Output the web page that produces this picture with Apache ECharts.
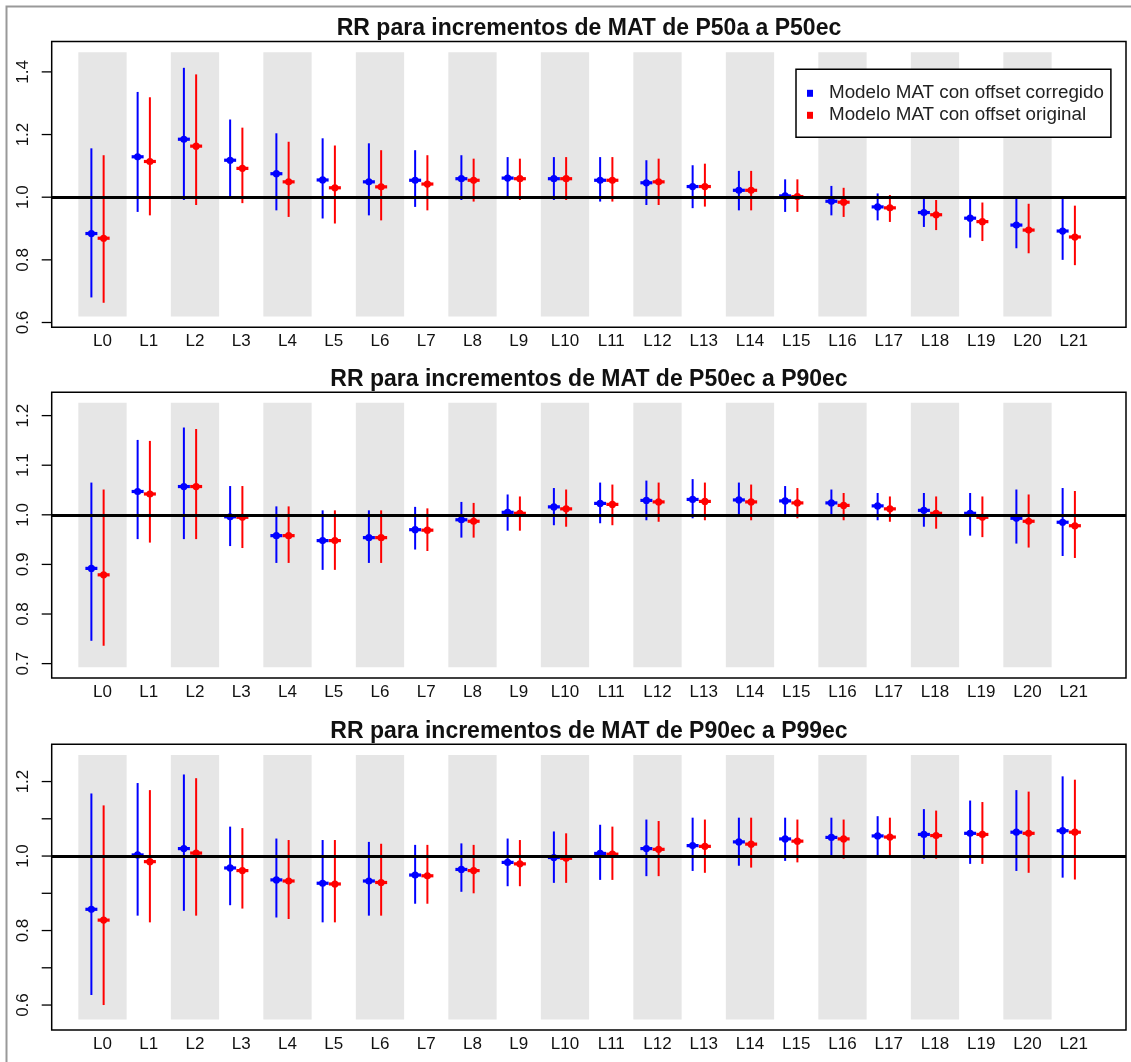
<!DOCTYPE html>
<html>
<head>
<meta charset="utf-8">
<script src="https://cdn.jsdelivr.net/npm/echarts@6/dist/echarts.min.js"></script>
<style>
  html, body { margin: 0; padding: 0; background: #fff; }
  #chart { width: 1131px; height: 1062px; }
</style>
</head>
<body>
<div id="chart"></div>
<script>
// Lags and model names
const lags = ['L0','L1','L2','L3','L4','L5','L6','L7','L8','L9','L10',
              'L11','L12','L13','L14','L15','L16','L17','L18','L19','L20','L21'];
const modelNames = ['Modelo MAT con offset corregido', 'Modelo MAT con offset original'];
const panelTitles = [
  'RR para incrementos de MAT de P50a a P50ec',
  'RR para incrementos de MAT de P50ec a P90ec',
  'RR para incrementos de MAT de P90ec a P99ec'
];

// Panel 1: P50a -> P50ec
const p1CorrRR = [0.884,1.129,1.185,1.118,1.075,1.055,1.049,1.054,1.059,1.061,1.059,1.054,1.046,1.034,1.022,1.004,0.987,0.969,0.951,0.933,0.911,0.892];
const p1CorrLo = [0.680,0.953,0.991,1.002,0.958,0.932,0.942,0.969,0.991,0.997,0.991,0.986,0.975,0.965,0.958,0.953,0.942,0.926,0.905,0.871,0.837,0.800];
const p1CorrHi = [1.156,1.336,1.413,1.248,1.204,1.188,1.172,1.150,1.134,1.128,1.128,1.128,1.118,1.102,1.084,1.057,1.036,1.012,1.002,0.995,0.996,0.997];
const p1OrigRR = [0.869,1.114,1.163,1.092,1.049,1.030,1.033,1.042,1.054,1.059,1.059,1.054,1.049,1.034,1.022,1.002,0.984,0.966,0.944,0.922,0.895,0.873];
const p1OrigLo = [0.663,0.942,0.975,0.981,0.937,0.916,0.926,0.958,0.986,0.991,0.991,0.986,0.975,0.970,0.958,0.953,0.937,0.921,0.895,0.860,0.821,0.783];
const p1OrigHi = [1.134,1.319,1.392,1.222,1.177,1.165,1.150,1.134,1.123,1.123,1.128,1.128,1.123,1.107,1.084,1.057,1.030,1.007,0.991,0.983,0.979,0.973];

// Panel 2: P50ec -> P90ec
const p2CorrRR = [0.892,1.047,1.057,0.996,0.958,0.948,0.954,0.970,0.990,1.005,1.016,1.023,1.029,1.031,1.030,1.028,1.024,1.018,1.009,1.003,0.993,0.985];
const p2CorrLo = [0.746,0.951,0.951,0.937,0.903,0.889,0.903,0.930,0.954,0.968,0.979,0.983,0.989,0.993,0.996,0.996,0.996,0.989,0.976,0.958,0.942,0.917];
const p2CorrHi = [1.065,1.151,1.176,1.058,1.017,1.009,1.009,1.016,1.026,1.041,1.054,1.065,1.069,1.072,1.065,1.058,1.051,1.044,1.044,1.044,1.051,1.054];
const p2OrigRR = [0.879,1.042,1.057,0.995,0.958,0.948,0.954,0.969,0.987,1.003,1.012,1.021,1.026,1.027,1.026,1.024,1.019,1.012,1.003,0.995,0.987,0.978];
const p2OrigLo = [0.736,0.944,0.951,0.933,0.903,0.889,0.903,0.927,0.954,0.968,0.976,0.979,0.986,0.989,0.989,0.993,0.989,0.986,0.972,0.955,0.934,0.913];
const p2OrigHi = [1.051,1.149,1.173,1.058,1.017,1.009,1.009,1.013,1.024,1.037,1.051,1.061,1.065,1.065,1.061,1.054,1.044,1.037,1.037,1.037,1.041,1.048];

// Panel 3: P90ec -> P99ec
const p3CorrRR = [0.857,1.003,1.020,0.968,0.936,0.927,0.933,0.949,0.964,0.983,0.996,1.007,1.020,1.028,1.038,1.046,1.050,1.054,1.058,1.061,1.064,1.068];
const p3CorrLo = [0.627,0.840,0.853,0.868,0.835,0.822,0.840,0.872,0.904,0.919,0.928,0.936,0.946,0.960,0.974,0.987,0.997,1.002,0.993,0.979,0.960,0.942];
const p3CorrHi = [1.168,1.196,1.219,1.079,1.047,1.043,1.038,1.030,1.034,1.047,1.066,1.084,1.098,1.103,1.103,1.103,1.103,1.107,1.126,1.149,1.177,1.214];
const p3OrigRR = [0.828,0.985,1.008,0.961,0.933,0.925,0.929,0.947,0.961,0.979,0.994,1.005,1.018,1.026,1.032,1.040,1.046,1.051,1.055,1.058,1.061,1.064];
const p3OrigLo = [0.600,0.822,0.840,0.859,0.831,0.822,0.840,0.872,0.900,0.919,0.928,0.936,0.946,0.955,0.969,0.983,0.993,0.997,0.993,0.979,0.955,0.937];
const p3OrigHi = [1.136,1.177,1.209,1.075,1.043,1.043,1.033,1.030,1.030,1.043,1.061,1.079,1.094,1.098,1.103,1.098,1.098,1.103,1.122,1.145,1.173,1.205];

// Y ticks and labelled values per panel
const p1Ticks  = [0.6, 0.8, 1.0, 1.2, 1.4];
const p1Labels = [0.6, 0.8, 1.0, 1.2, 1.4];
const p2Ticks  = [0.7, 0.8, 0.9, 1.0, 1.1, 1.2];
const p2Labels = [0.7, 0.8, 0.9, 1.0, 1.1, 1.2];
const p3Ticks  = [0.6, 0.7, 0.8, 0.9, 1.0, 1.1, 1.2];
const p3Labels = [0.6, 0.8, 1.0, 1.2];

// Axis extents and shaded band extents (y), per panel
const p1YRange = [0.585, 1.497];
const p1Band   = [0.619, 1.463];
const p2YRange = [0.671, 1.247];
const p2Band   = [0.6926, 1.226];
const p3YRange = [0.533, 1.300];
const p3Band   = [0.5614, 1.2716];

const refValue = 1.0;

// ---- layout & style ----
const FONT = "'Liberation Sans', Arial, sans-serif";
const COLORS = ['#0000ff', '#ff0000'];
const OFFSETS = [-0.24, 0.025];   // horizontal shift of each model within a lag
const BAND_HALF = 0.522;
const X_RANGE = [-1.098, 22.13];
const GRID_LEFT = 51.7, GRID_RIGHT = 5, GRID_H = 285.7;
const GRID_TOPS = [41.5, 392.3, 744.3];
const TITLE_TOPS = [17.5, 368.5, 720];
const TICK_LEN = 10;

const panels = [
  { corr: [p1CorrRR, p1CorrLo, p1CorrHi], orig: [p1OrigRR, p1OrigLo, p1OrigHi],
    ticks: p1Ticks, labels: p1Labels, yRange: p1YRange, band: p1Band },
  { corr: [p2CorrRR, p2CorrLo, p2CorrHi], orig: [p2OrigRR, p2OrigLo, p2OrigHi],
    ticks: p2Ticks, labels: p2Labels, yRange: p2YRange, band: p2Band },
  { corr: [p3CorrRR, p3CorrLo, p3CorrHi], orig: [p3OrigRR, p3OrigLo, p3OrigHi],
    ticks: p3Ticks, labels: p3Labels, yRange: p3YRange, band: p3Band }
];

function bandItem(params, api) {
  const i = api.value(0);
  const a = api.coord([i - BAND_HALF, api.value(2)]);
  const b = api.coord([i + BAND_HALF, api.value(1)]);
  return { type: 'rect', shape: { x: a[0], y: a[1], width: b[0] - a[0], height: b[1] - a[1] },
           style: { fill: '#e6e6e6' } };
}
// outward y-axis tick marks on the left edge of the plot frame
function tickItem(params, api) {
  const c = api.coord([api.value(0), api.value(1)]);
  const x0 = params.coordSys.x;
  return { type: 'line', shape: { x1: x0 - TICK_LEN, y1: c[1], x2: x0, y2: c[1] },
           style: { stroke: '#000', lineWidth: 1.3 } };
}
function ciItem(offset, color) {
  return function (params, api) {
    const x = api.value(0) + offset;
    const p = api.coord([x, api.value(1)]);
    const q = api.coord([x, api.value(2)]);
    return { type: 'line', shape: { x1: p[0], y1: p[1], x2: q[0], y2: q[1] },
             style: { stroke: color, lineWidth: 2 } };
  };
}
function pointItem(offset, color) {
  return function (params, api) {
    const c = api.coord([api.value(0) + offset, api.value(1)]);
    return { type: 'group', children: [
      { type: 'rect', shape: { x: c[0] - 6, y: c[1] - 1.6, width: 12, height: 3.2 }, style: { fill: color } },
      { type: 'circle', shape: { cx: c[0], cy: c[1], r: 3.6 }, style: { fill: color } }
    ] };
  };
}

const grid = [], xAxis = [], yAxis = [], series = [], title = [];
panels.forEach((p, k) => {
  grid.push({ left: GRID_LEFT, right: GRID_RIGHT, top: GRID_TOPS[k], height: GRID_H,
              show: true, borderColor: '#000', borderWidth: 1.5, backgroundColor: 'transparent' });
  title.push({ text: panelTitles[k], left: 589, top: TITLE_TOPS[k], textAlign: 'center', padding: 0,
               textStyle: { fontFamily: FONT, fontSize: 23, fontWeight: 'bold', color: '#111' } });
  xAxis.push({ type: 'value', gridIndex: k, min: X_RANGE[0], max: X_RANGE[1],
               axisLine: { show: false }, axisTick: { show: false }, splitLine: { show: false },
               axisLabel: { customValues: lags.map((_, i) => i), formatter: v => lags[Math.round(v)],
                            margin: 6, fontFamily: FONT, fontSize: 17, color: '#111' } });
  yAxis.push({ type: 'value', gridIndex: k, min: p.yRange[0], max: p.yRange[1],
               axisLine: { show: false }, splitLine: { show: false }, axisTick: { show: false },
               axisLabel: { customValues: p.labels, rotate: 90, margin: 20, formatter: v => v.toFixed(1),
                            fontFamily: FONT, fontSize: 17, color: '#111' } });

  // shaded bands on even lags
  series.push({ type: 'custom', xAxisIndex: k, yAxisIndex: k, z: 1, silent: true,
    data: lags.map((_, i) => i).filter(i => i % 2 === 0).map(i => [i, p.band[0], p.band[1]]),
    encode: { x: 0, y: [1, 2] }, renderItem: bandItem });
  // y tick marks
  series.push({ type: 'custom', xAxisIndex: k, yAxisIndex: k, z: 1, silent: true, clip: false,
    data: p.ticks.map(v => [X_RANGE[0], v]), encode: { x: 0, y: 1 }, renderItem: tickItem });
  // reference line at RR = 1
  series.push({ type: 'line', xAxisIndex: k, yAxisIndex: k, z: 3, data: [], silent: true,
    markLine: { silent: true, symbol: ['none', 'none'], label: { show: false },
                lineStyle: { color: '#000', width: 3, type: 'solid' }, data: [{ yAxis: refValue }] } });
  [p.corr, p.orig].forEach((m, j) => {
    const [rr, lo, hi] = m;
    series.push({ type: 'custom', name: modelNames[j], xAxisIndex: k, yAxisIndex: k, z: 2,
      itemStyle: { color: COLORS[j] },
      data: lo.map((v, i) => [i, v, hi[i]]), encode: { x: 0, y: [1, 2] },
      renderItem: ciItem(OFFSETS[j], COLORS[j]) });
    series.push({ type: 'custom', name: modelNames[j], xAxisIndex: k, yAxisIndex: k, z: 4,
      itemStyle: { color: COLORS[j] },
      data: rr.map((v, i) => [i, v]), encode: { x: 0, y: 1 },
      renderItem: pointItem(OFFSETS[j], COLORS[j]) });
  });
});

const chart = echarts.init(document.getElementById('chart'), null, { renderer: 'canvas' });
chart.setOption({
  animation: false,
  backgroundColor: '#fff',
  title, grid, xAxis, yAxis, series,
  legend: {
    data: modelNames.map(n => ({ name: n, icon: 'rect' })),
    orient: 'vertical', left: 796, top: 69.3,
    itemWidth: 6, itemHeight: 7, itemGap: 3,
    padding: [14.5, 7, 12.5, 11],
    backgroundColor: '#fff', borderColor: '#000', borderWidth: 1.5, borderRadius: 0,
    selectedMode: false,
    textStyle: { fontFamily: FONT, fontSize: 18.8, lineHeight: 18, color: '#222', padding: [0, 0, 0, 11] }
  },
  graphic: [{
    type: 'rect', silent: true, z: 100,
    shape: { x: 6.5, y: 6.5, width: 1300, height: 1300 },
    style: { fill: 'none', stroke: '#999', lineWidth: 2 }
  }]
});
</script>
</body>
</html>
